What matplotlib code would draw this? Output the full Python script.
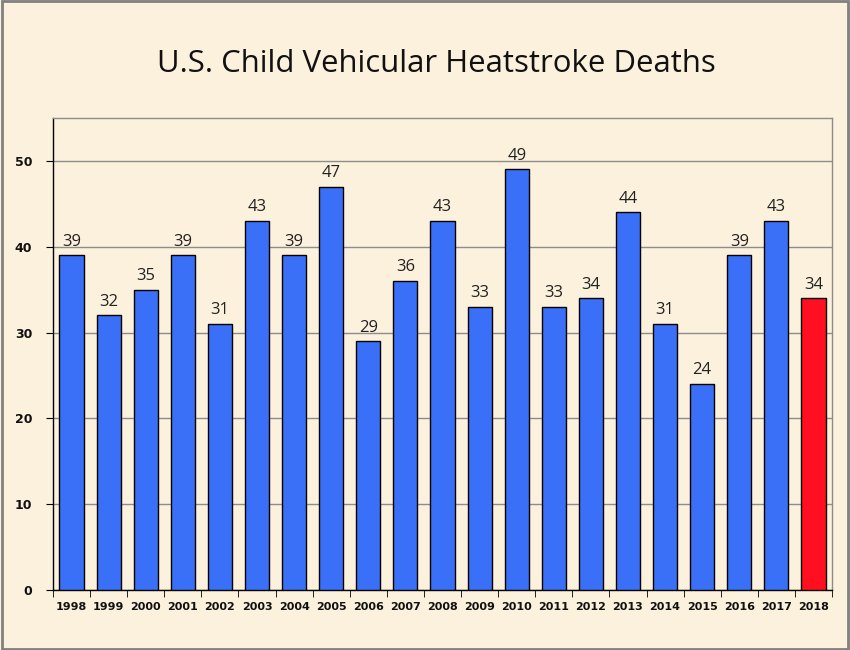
import matplotlib as mpl
import matplotlib.pyplot as plt
import numpy as np

years = ['1998', '1999', '2000', '2001', '2002', '2003', '2004', '2005', '2006', '2007',
         '2008', '2009', '2010', '2011', '2012', '2013', '2014', '2015', '2016', '2017', '2018']
deaths = [39, 32, 35, 39, 31, 43, 39, 47, 29, 36, 43, 33, 49, 33, 34, 44, 31, 24, 39, 43, 34]

BG = '#fcf1dc'
BLUE = '#3a6ff7'
RED = '#ff0f1f'

fig = plt.figure(figsize=(8.5, 6.5), dpi=100, facecolor=BG)
fig.patches.append(mpl.patches.Rectangle((0.002, 0.002), 0.996, 0.996, transform=fig.transFigure,
                                         fill=False, edgecolor='#808080', linewidth=2))
ax = fig.add_axes([53 / 850, 60 / 650, 779 / 850, 472 / 650])
ax.set_facecolor(BG)

x = np.arange(len(years))
colors = [BLUE] * (len(years) - 1) + [RED]
bars = ax.bar(x, deaths, width=0.65, color=colors, edgecolor='black', linewidth=1, zorder=3)
ax.bar_label(bars, labels=[str(d) for d in deaths], padding=4, fontsize=12,
             family='Open Sans', color='#222222')

ax.set_xlim(-0.5, len(years) - 0.5)
ax.set_ylim(0, 55)
ax.set_yticks(range(0, 51, 10))
ax.yaxis.grid(True, color='#8c8c8c', linewidth=1, zorder=0)
ax.set_xticks(x)
ax.set_xticklabels(years)
ax.set_xticks(np.arange(-0.5, len(years)), minor=True)
ax.tick_params(axis='x', which='major', length=0, pad=9)
ax.tick_params(axis='x', which='minor', length=5, direction='out', color='black')
ax.tick_params(axis='y', length=5, direction='out', pad=10)
for lbl in ax.get_xticklabels() + ax.get_yticklabels():
    lbl.set_fontweight('bold')
    lbl.set_fontsize(8)
    lbl.set_color('#111111')
for lbl in ax.get_yticklabels():
    lbl.set_fontsize(9)

for side in ['left', 'bottom']:
    ax.spines[side].set_color('black')
    ax.spines[side].set_linewidth(1)
for side in ['top', 'right']:
    ax.spines[side].set_color('#8c8c8c')
    ax.spines[side].set_linewidth(1)

fig.text(0.513, 0.902, 'U.S. Child Vehicular Heatstroke Deaths', ha='center', va='center',
         fontsize=22.4, family='Open Sans', color='#111111')

fig.savefig('out.png', dpi=100, facecolor=BG)
